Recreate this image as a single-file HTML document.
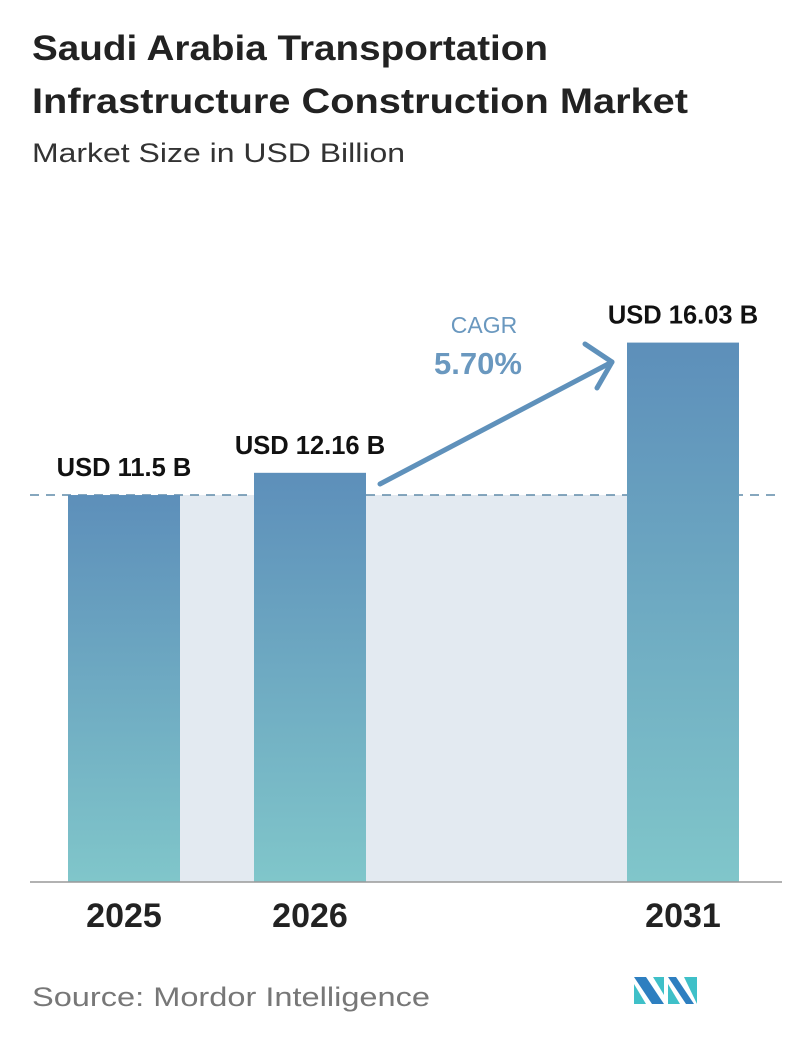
<!DOCTYPE html>
<html><head><meta charset="utf-8"><style>
body{margin:0;background:#fff;width:796px;height:1034px;overflow:hidden;font-family:"Liberation Sans",sans-serif}
</style></head><body>
<svg width="796" height="1034">
<defs><linearGradient id="g" x1="0" y1="0" x2="0" y2="1"><stop offset="0" stop-color="#5d8fba"/><stop offset="1" stop-color="#80c6ca"/></linearGradient></defs>
<text x="32" y="60" font-size="35" font-weight="bold" fill="#222" textLength="516" lengthAdjust="spacingAndGlyphs">Saudi Arabia Transportation</text>
<text x="32" y="113" font-size="35" font-weight="bold" fill="#222" textLength="656" lengthAdjust="spacingAndGlyphs">Infrastructure Construction Market</text>
<text x="32" y="162" font-size="27" fill="#333" textLength="373" lengthAdjust="spacingAndGlyphs">Market Size in USD Billion</text>
<g id="plot"></g>
<g>
<text x="484" y="333" font-size="23" fill="#6a98bf" text-anchor="middle">CAGR</text>
<text x="478" y="374" font-size="31" font-weight="bold" fill="#6a98bf" text-anchor="middle">5.70%</text>
<line x1="380" y1="484" x2="612" y2="362" stroke="#5f91bb" stroke-width="5" stroke-linecap="round"/>
<polyline points="585,344 612,362 597,388" fill="none" stroke="#5f91bb" stroke-width="5" stroke-linecap="round" stroke-linejoin="round"/>
</g>
<text x="32" y="1006" font-size="27" fill="#777" textLength="398" lengthAdjust="spacingAndGlyphs">Source:  Mordor Intelligence</text>
<g>
<polygon points="634,977 646,977 664,1004 652,1004" fill="#2e7fc0"/>
<polygon points="634,984 646,1004 634,1004" fill="#3fc0c8"/>
<polygon points="653,977 664,977 664,995" fill="#3fc0c8"/>
<polygon points="668,977 676,977 694,1004 686,1004" fill="#2e7fc0"/>
<polygon points="668,984 680,1004 668,1004" fill="#3fc0c8"/>
<polygon points="684,977 697,977 697,1004" fill="#3fc0c8"/>
</g>
</svg>
<script>
const categories=["2025","2026","2031"];
const values=[11.5,12.16,16.03];
const labels=["USD 11.5 B","USD 12.16 B","USD 16.03 B"];
const ns="http://www.w3.org/2000/svg";
const base=882, ppu=33.65;
const xs=[68,254,627], bw=112;
const y=v=>base-v*ppu;
const g=document.getElementById('plot');
function el(t,a){const e=document.createElementNS(ns,t);for(const k in a)e.setAttribute(k,a[k]);g.appendChild(e);return e;}
const r=el('rect',{x:xs[0]+bw,y:y(values[0]),width:xs[2]-xs[0]-bw,height:base-y(values[0]),fill:'#e3eaf1'});


const dl=el('line',{x1:30,x2:782,y1:y(values[0]),y2:y(values[0]),stroke:'#5f8aa8','stroke-width':1.5,'stroke-dasharray':'9,7'});


categories.forEach((c,i)=>{
 const b=el('rect',{x:xs[i],y:y(values[i]),width:bw,height:base-y(values[i]),fill:'url(#g)'});
 
 
 const t=el('text',{x:xs[i]+bw/2,y:y(values[i])-19,'font-size':25.5,'font-weight':'bold',fill:'#111','text-anchor':'middle'});
 t.textContent=labels[i];
 
 
 const xl=el('text',{x:xs[i]+bw/2,y:927,'font-size':34,'font-weight':'bold',fill:'#222','text-anchor':'middle'});
 xl.textContent=c;
 
 
});
const ax=el('line',{x1:30,x2:782,y1:base,y2:base,stroke:'#999','stroke-width':1.5});


</script>
</body></html>
